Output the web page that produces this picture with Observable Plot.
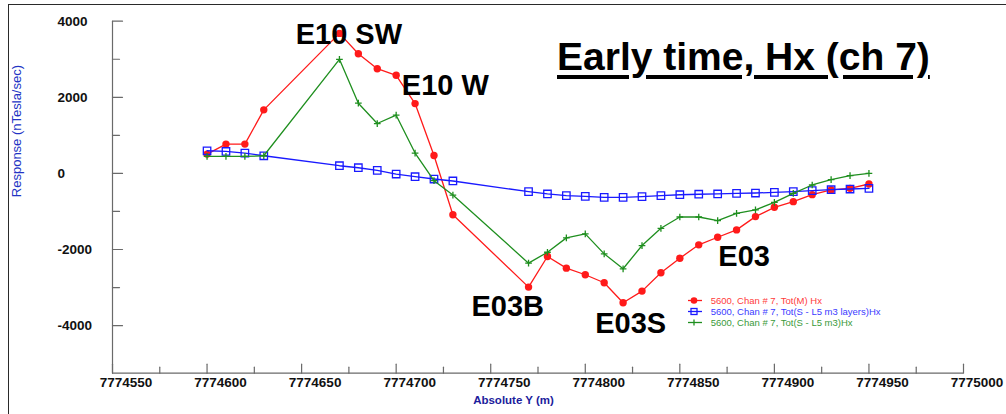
<!DOCTYPE html>
<html><head><meta charset="utf-8">
<script src="https://cdn.jsdelivr.net/npm/d3@7"></script>
<script src="https://cdn.jsdelivr.net/npm/@observablehq/plot@0.6"></script>
<style>
body{margin:0;background:#fff;}
#wrap{position:relative;width:1006px;height:414px;overflow:hidden;font-family:"Liberation Sans",Arial,sans-serif;background:#fff;}
#wrap svg{position:absolute;left:0;top:0;}
#border{position:absolute;left:8px;top:4px;width:1010px;height:420px;border-top:1.5px solid #2a2a2a;border-left:1.5px solid #2a2a2a;box-sizing:border-box;}
#title{position:absolute;left:557px;top:37px;font-weight:bold;font-size:39px;line-height:39px;white-space:nowrap;color:#000;text-decoration:underline;text-decoration-thickness:4px;text-underline-offset:5px;}
.leg{position:absolute;left:686px;height:11px;font-size:9.5px;line-height:11px;white-space:nowrap;}
.leg svg{position:absolute;left:0;top:0;}
.leg span{position:absolute;left:24.7px;top:0;}
g[aria-label="x tick labels"] text, g[aria-label="y tick labels"] text{letter-spacing:0.7px;}
</style>
</head><body>
<div id="wrap"></div>
<script>
// ---- data ----
const positions = [7774600, 7774610, 7774620, 7774630, 7774670, 7774680, 7774690, 7774700, 7774710, 7774720, 7774730,
  7774770, 7774780, 7774790, 7774800, 7774810, 7774820, 7774830, 7774840, 7774850, 7774860, 7774870, 7774880,
  7774890, 7774900, 7774910, 7774920, 7774930, 7774940, 7774950];
const totM = [508, 770, 770, 1670, 3680, 3146, 2752, 2579, 1835, 470, -1085,
  -2988, -2183, -2490, -2663, -2873, -3397, -3093, -2611, -2228, -1877, -1677, -1484,
  -1135, -891, -742, -558, -435, -393, -278];
const totSLayers = [595, 577, 535, 464, 202, 149, 79, -16, -87, -147, -199,
  -480, -540, -584, -603, -629, -629, -611, -584, -560, -547, -540, -524,
  -515, -497, -480, -454, -428, -410, -393];
const totS = [446, 446, 446, 464, 2998, 1845, 1311, 1530, 535, -191, -570,
  -2359, -2071, -1694, -1589, -2113, -2506, -1895, -1442, -1145, -1145, -1240, -1048,
  -959, -760, -524, -304, -165, -60, 0];

const seriesNames = ["5600, Chan # 7, Tot(M) Hx", "5600, Chan # 7, Tot(S - L5 m3 layers)Hx", "5600, Chan # 7, Tot(S - L5 m3)Hx"];
const seriesColors = ["#ff1a1a", "#1a1aff", "#1f8f1f"];
const legendTextColors = ["#ff3b3b", "#3b3bff", "#3a9a3a"];

const xTicksMajor = [7774550, 7774600, 7774650, 7774700, 7774750, 7774800, 7774850, 7774900, 7774950, 7775000];
const xTickLabels = ["7774550", "7774600", "7774650", "7774700", "7774750", "7774800", "7774850", "7774900", "7774950", "7775000"];
const xTicksMinor = [7774575, 7774625, 7774675, 7774725, 7774775, 7774825, 7774875, 7774925, 7774975];
const yTicksMajor = [4000, 2000, 0, -2000, -4000];
const yTickLabels = ["4000", "2000", "0", "-2000", "-4000"];
const yTicksMinor = [3000, 1000, -1000, -3000];

const annLabels = ["E10 SW", "E10 W", "E03B", "E03S", "E03"];
const annX = [7774675, 7774726, 7774759, 7774824, 7774884];
const annY = [3640, 2300, -3510, -3940, -2190];

const titleText = "Early time, Hx (ch 7)";
const xLabel = "Absolute Y (m)";
const yLabel = "Response (nTesla/sec)";

// ---- build ----
const series = [totM, totSLayers, totS];
const rows = series.map((vals, s) => positions.map((x, i) => ({x, y: vals[i], s})));
const ann = annLabels.map((t, i) => ({t, x: annX[i], y: annY[i]}));
const tickShape = {draw(ctx, l) { ctx.moveTo(0, 0); ctx.lineTo(0, -l); }};
const axisColor = "#6a6a6a";
const font = "Liberation Sans, Arial, sans-serif";

const plot = Plot.plot({
  width: 1006, height: 414,
  marginLeft: 112, marginRight: 43, marginTop: 20.7, marginBottom: 41.3,
  x: {domain: [7774550, 7775000], axis: null},
  y: {domain: [-5250, 4000], axis: null},
  style: {fontFamily: font, background: "transparent", overflow: "visible"},
  marks: [
    Plot.ruleX([7774550], {stroke: axisColor, strokeWidth: 1.2}),
    Plot.ruleY([-5250], {stroke: axisColor, strokeWidth: 1.2}),
    Plot.vector(yTicksMajor, {y: d => d, frameAnchor: "left", length: 10, rotate: 90, anchor: "start", shape: tickShape, stroke: axisColor, strokeWidth: 1.2}),
    Plot.vector(yTicksMinor, {y: d => d, frameAnchor: "left", length: 7, rotate: 90, anchor: "start", shape: tickShape, stroke: axisColor, strokeWidth: 1.2}),
    Plot.vector(xTicksMajor, {x: d => d, frameAnchor: "bottom", length: 9, rotate: 0, anchor: "start", shape: tickShape, stroke: axisColor, strokeWidth: 1.2}),
    Plot.vector(xTicksMinor, {x: d => d, frameAnchor: "bottom", length: 6, rotate: 0, anchor: "start", shape: tickShape, stroke: axisColor, strokeWidth: 1.2}),
    Plot.text(xTicksMajor, {x: d => d, text: (d, i) => xTickLabels[i], frameAnchor: "bottom", dy: 14, dx: 13.5, fontWeight: "bold", fontSize: 13.5, fill: "#111", ariaLabel: "x tick labels"}),
    Plot.text(yTicksMajor, {y: d => d, text: (d, i) => yTickLabels[i], frameAnchor: "left", dx: -55, textAnchor: "start", fontWeight: "bold", fontSize: 13.5, fill: "#111", ariaLabel: "y tick labels"}),
    Plot.text([xLabel], {text: d => d, frameAnchor: "bottom", dy: 30.5, dx: -24.5, fontWeight: "bold", fontSize: 11.5, fill: "#1c1c9c"}),
    Plot.text([yLabel], {text: d => d, frameAnchor: "left", dx: -95.3, rotate: -90, fontSize: 13, fill: "#2233c4"}),
    // series
    Plot.line(rows[0], {x: "x", y: "y", stroke: seriesColors[0], strokeWidth: 1.3}),
    Plot.dot(rows[0], {x: "x", y: "y", r: 3.7, fill: seriesColors[0], stroke: "none"}),
    Plot.line(rows[1], {x: "x", y: "y", stroke: seriesColors[1], strokeWidth: 1.3}),
    Plot.dot(rows[1], {x: "x", y: "y", r: 4.2, symbol: "square", fill: "none", stroke: seriesColors[1], strokeWidth: 1.3}),
    Plot.line(rows[2], {x: "x", y: "y", stroke: seriesColors[2], strokeWidth: 1.3}),
    Plot.dot(rows[2], {x: "x", y: "y", r: 2.3, symbol: "plus", stroke: seriesColors[2], strokeWidth: 1.3}),
    // annotations
    Plot.text(ann, {x: "x", y: "y", text: "t", fontWeight: "bold", fontSize: 29, fill: "#000"})
  ]
});

const wrap = document.getElementById("wrap");
wrap.appendChild(plot);
const border = document.createElement("div"); border.id = "border"; wrap.appendChild(border);
const title = document.createElement("div"); title.id = "title"; title.textContent = titleText; wrap.appendChild(title);

const rowTops = [294.5, 306.2, 316.8];
seriesNames.forEach((name, s) => {
  const row = document.createElement("div");
  row.className = "leg";
  row.style.top = rowTops[s] + "px";
  const ns = "http://www.w3.org/2000/svg";
  const g = document.createElementNS(ns, "svg");
  g.setAttribute("width", 18); g.setAttribute("height", 11);
  const ln = document.createElementNS(ns, "line");
  ln.setAttribute("x1", 2); ln.setAttribute("x2", 16); ln.setAttribute("y1", 5.5); ln.setAttribute("y2", 5.5);
  ln.setAttribute("stroke", seriesColors[s]); ln.setAttribute("stroke-width", 1.3);
  g.appendChild(ln);
  let m;
  if (s === 0) {
    m = document.createElementNS(ns, "circle");
    m.setAttribute("cx", 8); m.setAttribute("cy", 5.5); m.setAttribute("r", 3.3); m.setAttribute("fill", seriesColors[s]);
  } else if (s === 1) {
    m = document.createElementNS(ns, "rect");
    m.setAttribute("x", 5); m.setAttribute("y", 2.5); m.setAttribute("width", 6); m.setAttribute("height", 6);
    m.setAttribute("fill", "none"); m.setAttribute("stroke", seriesColors[s]); m.setAttribute("stroke-width", 1.3);
  } else {
    m = document.createElementNS(ns, "line");
    m.setAttribute("x1", 8); m.setAttribute("x2", 8); m.setAttribute("y1", 2.5); m.setAttribute("y2", 8.5);
    m.setAttribute("stroke", seriesColors[s]); m.setAttribute("stroke-width", 1.3);
  }
  g.appendChild(m);
  row.appendChild(g);
  const sp = document.createElement("span");
  sp.textContent = name; sp.style.color = legendTextColors[s];
  row.appendChild(sp);
  wrap.appendChild(row);
});
</script>
</body></html>
